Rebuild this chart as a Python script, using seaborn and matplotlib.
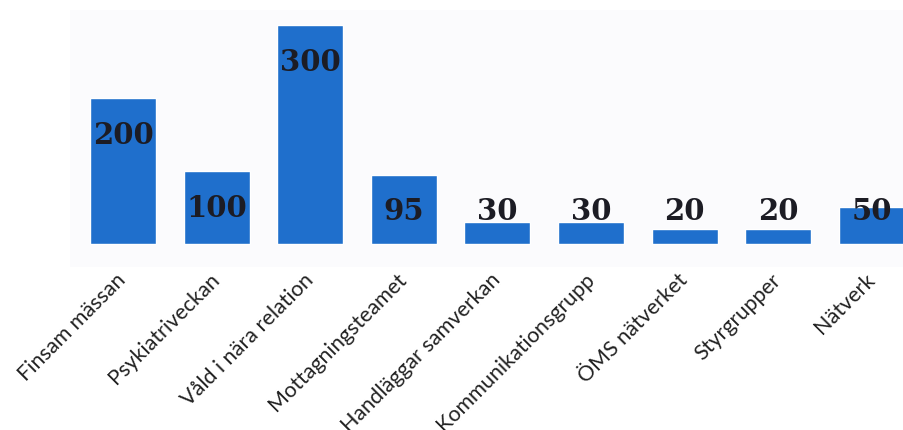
import matplotlib
matplotlib.use("Agg")
import matplotlib.pyplot as plt
import matplotlib.transforms as mtransforms
import seaborn as sns
import pandas as pd

# chart values
categories = ["Finsam mässan", "Psykiatriveckan", "Våld i nära relation",
              "Mottagningsteamet", "Handläggar samverkan", "Kommunikationsgrupp",
              "ÖMS nätverket", "Styrgrupper", "Nätverk"]
values = [200, 100, 300, 95, 30, 30, 20, 20, 50]

df = pd.DataFrame({"kategori": categories, "antal": values})

sns.set_theme(style="white")
plt.rcParams["font.family"] = ["Lato", "DejaVu Sans"]

fig = plt.figure(figsize=(9.04, 4.30), dpi=100)
# plot area runs a little below the bar baseline (light "floor" strip)
ax = fig.add_axes([70 / 904, 1 - 267 / 430, 834 / 904, 257 / 430])
ax.set_facecolor("#fbfbfd")

sns.barplot(data=df, x="kategori", y="antal", color="#1f6fcc",
            saturation=1, width=0.705, ax=ax)

ax.set_xlim(-0.566, 8.344)
ax.set_ylim(-31.5, 320.5)

# value labels inside the bar top, lifted above the short bars
for i, v in enumerate(values):
    ax.text(i, max(v - 52, 44), str(v), ha="center", va="center",
            fontsize=21, fontweight="bold", family="DejaVu Serif",
            color="#1c1c24")

ax.set_xlabel("")
ax.set_ylabel("")
ax.set_yticks([])
ax.tick_params(axis="x", length=0)
offset = mtransforms.ScaledTranslation(0 / 100, -5 / 100, fig.dpi_scale_trans)
for lab in ax.get_xticklabels():
    lab.set_rotation(45)
    lab.set_ha("right")
    lab.set_va("center")
    lab.set_rotation_mode("anchor")
    lab.set_fontsize(15.5)
    lab.set_color("#222222")
    lab.set_transform(lab.get_transform() + offset)

sns.despine(ax=ax, left=True, bottom=True)

fig.savefig("out.png", dpi=100)
